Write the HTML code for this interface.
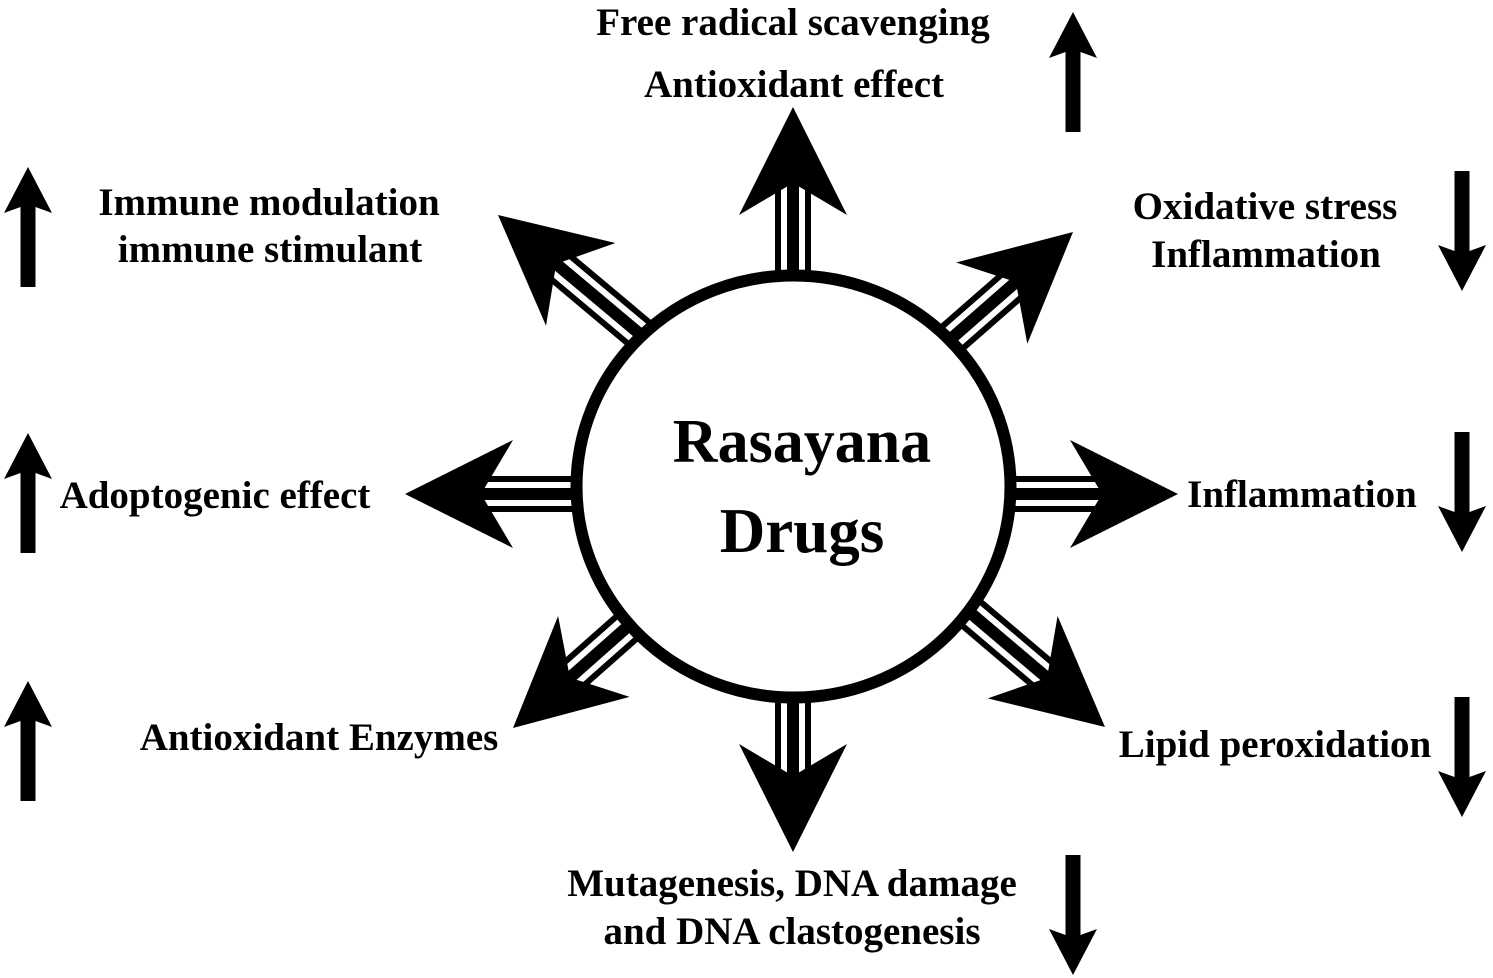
<!DOCTYPE html>
<html>
<head>
<meta charset="utf-8">
<style>
  html, body { margin: 0; padding: 0; background: #fff; }
  svg { display: block; }
  text { font-family: "Liberation Serif", "Times New Roman", serif; font-weight: bold; fill: #000; }
</style>
</head>
<body>
<svg width="1493" height="978" viewBox="0 0 1493 978" xmlns="http://www.w3.org/2000/svg">
  <defs>
    <g id="big">
      <rect x="-320" y="-18" width="250" height="36" fill="#000"/>
      <rect x="-320" y="-12" width="250" height="6" fill="#fff"/>
      <rect x="-320" y="6" width="250" height="6" fill="#fff"/>
      <polygon points="0,0 -108,-54 -76,0 -108,54" fill="#000"/>
    </g>
    <g id="small">
      <polygon points="0,0 24,46 7.5,40 7.5,120 -7.5,120 -7.5,40 -24,46" fill="#000"/>
    </g>
  </defs>

  <rect width="1493" height="978" fill="#fff"/>

  <!-- Big striped arrows -->
  <use href="#big" transform="translate(793,107) rotate(-90)"/>
  <use href="#big" transform="translate(1178,494) rotate(0)"/>
  <use href="#big" transform="translate(405,494) rotate(180)"/>
  <use href="#big" transform="translate(793,852) rotate(90)"/>
  <use href="#big" transform="translate(498,215) rotate(220)"/>
  <use href="#big" transform="translate(1073,232) rotate(-41.2)"/>
  <use href="#big" transform="translate(513,728) rotate(138.5)"/>
  <use href="#big" transform="translate(1105,727) rotate(40.3)"/>

  <!-- Central circle -->
  <ellipse cx="793.5" cy="486.5" rx="217" ry="211" fill="#fff" stroke="#000" stroke-width="12"/>
  <text x="802" y="462" font-size="62" text-anchor="middle">Rasayana</text>
  <text x="802" y="552" font-size="63" text-anchor="middle">Drugs</text>

  <!-- Small solid arrows -->
  <use href="#small" transform="translate(1073,12)"/>
  <use href="#small" transform="translate(28,167)"/>
  <use href="#small" transform="translate(28,433)"/>
  <use href="#small" transform="translate(28,681)"/>
  <use href="#small" transform="translate(1462,291) rotate(180)"/>
  <use href="#small" transform="translate(1462,552) rotate(180)"/>
  <use href="#small" transform="translate(1462,817) rotate(180)"/>
  <use href="#small" transform="translate(1073,975) rotate(180)"/>

  <!-- Labels -->
  <g font-size="39" text-anchor="middle">
    <text x="793" y="35">Free radical scavenging</text>
    <text x="794" y="97">Antioxidant effect</text>
    <text x="269" y="215">Immune modulation</text>
    <text x="270" y="262">immune stimulant</text>
    <text x="1265" y="219">Oxidative stress</text>
    <text x="1266" y="267">Inflammation</text>
    <text x="215" y="508">Adoptogenic effect</text>
    <text x="1302" y="507">Inflammation</text>
    <text x="319" y="750">Antioxidant Enzymes</text>
    <text x="1275" y="757">Lipid peroxidation</text>
    <text x="792" y="896">Mutagenesis, DNA damage</text>
    <text x="792" y="944">and DNA clastogenesis</text>
  </g>
</svg>
</body>
</html>
